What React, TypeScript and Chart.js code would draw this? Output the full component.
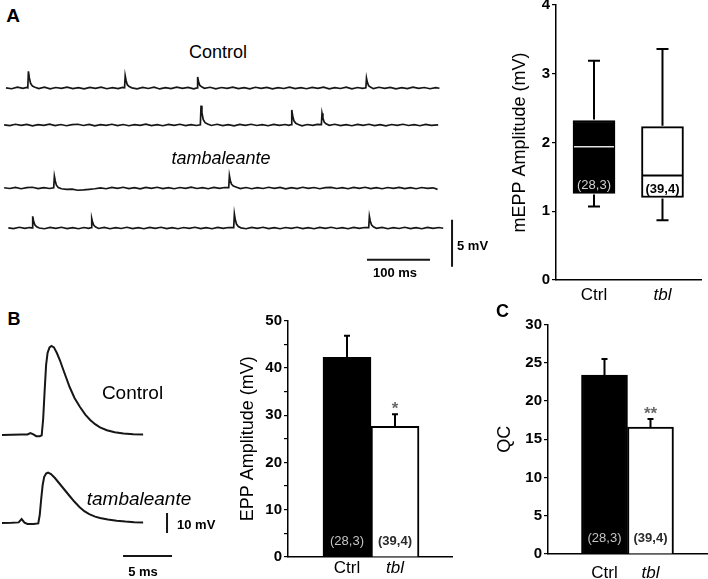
import React, { useEffect, useRef } from 'react';
import { Chart, registerables } from 'chart.js';

Chart.register(...registerables);

const FAMILY = '"Liberation Sans", Arial, Helvetica, sans-serif';

// ---------- DATA ----------
const categories = ['Ctrl', 'tbl'];
const nLabels = ['(28,3)', '(39,4)'];

// Panel A: mEPP amplitude box plot (mV)
const mEppMin = [1.07, 0.87];
const mEppQ1 = [1.26, 1.2];
const mEppMedian = [1.94, 1.52];
const mEppQ3 = [2.32, 2.23];
const mEppMax = [3.19, 3.36];
const mEppTicks = [0, 1, 2, 3, 4];

// Panel B: EPP amplitude (mV), mean and SEM
const eppMean = [42.2, 27.6];
const eppErr = [4.6, 2.6];
const eppStars = ['', '*'];

// Panel C: quantal content, mean and SEM
const qcMean = [23.4, 16.6];
const qcErr = [2.1, 1.05];
const qcStars = ['', '**'];

// Panel A: mEPP recordings, [time ms, mV]
const controlTrace1: [number, number][] = [
  [0, 0.02], [9, -0.08], [18, 0.09], [27, -0.04], [33, 0.06], [34.6, 0.02], [35.6, 1.78], [37, 1.1], [39, 0.5], [42, 0.2],
  [46, 0.08], [52, -0.07], [61, 0.08], [70, -0.09], [79, 0.05], [88, -0.03], [97, 0.1], [106, -0.07], [115, 0.04], [124, -0.1],
  [133, 0.07], [142, -0.04], [151, 0.09], [160, -0.08], [169, 0.03], [178, -0.06], [185, 0.07], [188.2, 0.03], [189.2, 1.31], [190.6, 0.8],
  [192.5, 0.35], [195.5, 0.15], [200, 0.02], [208, -0.09], [217, 0.07], [226, -0.05], [235, 0.08], [244, -0.1], [253, 0.04], [262, -0.07],
  [271, 0.09], [280, -0.04], [289, 0.07], [298, -0.08], [303.2, 0.02], [304.2, 1.17], [305.6, 0.7], [307.5, 0.3], [310.5, 0.12], [315, -0.03],
  [324, 0.08], [333, -0.09], [342, 0.05], [351, -0.04], [360, 0.1], [369, -0.07], [378, 0.03], [387, -0.09], [396, 0.08], [405, -0.03],
  [414, 0.07], [423, -0.1], [432, 0.04], [441, -0.05], [450, 0.09], [459, -0.07], [468, 0.03], [477, -0.08], [486, 0.07], [495, -0.04],
  [504, 0.09], [513, -0.08], [522, 0.04], [531, -0.05], [540, 0.08], [549, -0.09], [558, 0.05], [566, -0.03], [571.2, 0.03], [572.2, 1.06],
  [573.6, 0.6], [575.5, 0.25], [578.5, 0.1], [583, -0.07], [592, 0.08], [601, -0.04], [610, 0.07], [619, -0.09], [628, 0.03], [637, -0.07],
  [646, 0.09], [655, -0.03], [664, 0.05], [673, -0.08], [682, 0.04], [688, -0.03],
];
const controlTrace2: [number, number][] = [
  [-3, 0.02], [6, -0.07], [15, 0.08], [24, -0.04], [33, 0.07], [42, -0.09], [51, 0.04], [60, -0.03], [69, 0.09], [78, -0.07],
  [87, 0.05], [96, -0.08], [105, 0.03], [114, 0.08], [123, -0.05], [132, 0.07], [141, -0.09], [150, 0.04], [159, -0.03], [168, 0.08],
  [177, -0.07], [186, 0.05], [195, -0.08], [204, 0.04], [213, -0.04], [222, 0.09], [231, -0.07], [240, 0.03], [249, -0.08], [258, 0.07],
  [267, -0.04], [276, 0.08], [285, -0.07], [294, 0.04], [302, -0.05], [308.5, 0.02], [309.6, 2.06], [311, 1.3], [313, 0.6], [316, 0.25],
  [320, 0.1], [326, -0.05], [335, 0.08], [344, -0.07], [353, 0.04], [362, -0.09], [371, 0.07], [380, -0.03], [389, 0.08], [398, -0.05],
  [407, 0.04], [416, -0.08], [425, 0.07], [434, -0.04], [443, 0.05], [449, -0.03], [452.5, 0.03], [453.6, 1.6], [455, 1.0], [457, 0.45],
  [460, 0.18], [464, 0.05], [470, -0.08], [478, 0.05], [487, -0.04], [494, 0.07], [500.6, 0.04], [501.6, 1.24], [503, 0.75], [505, 0.32],
  [508, 0.12], [513, -0.04], [522, 0.08], [531, -0.07], [540, 0.04], [549, -0.08], [558, 0.07], [567, -0.03], [576, 0.08], [585, -0.07],
  [594, 0.04], [603, -0.09], [612, 0.05], [621, -0.04], [630, 0.08], [639, -0.05], [648, 0.03], [657, -0.08], [666, 0.07], [675, -0.04],
  [686, 0.02],
];
const tblTrace1: [number, number][] = [
  [-3, 0.03], [6, -0.05], [15, 0.07], [24, -0.08], [33, 0.03], [42, 0.08], [51, -0.07], [60, 0.04], [69, -0.05], [75.7, 0.02],
  [76.8, 1.24], [78.2, 0.75], [80, 0.3], [83, 0.05], [88, -0.08], [96, -0.15], [105, -0.12], [114, -0.24], [123, -0.2], [132, -0.14],
  [141, -0.08], [150, 0.02], [159, -0.08], [168, 0.07], [177, -0.04], [186, 0.08], [195, -0.07], [204, 0.03], [213, -0.09], [222, 0.07],
  [231, -0.03], [240, 0.08], [249, -0.07], [258, 0.04], [267, -0.08], [276, 0.05], [285, -0.03], [294, 0.09], [303, -0.05], [312, 0.04],
  [321, -0.08], [330, 0.07], [339, -0.03], [347, 0.05], [353.5, 0.03], [354.6, 1.31], [356, 0.8], [358, 0.4], [361, 0.2], [366, 0.08],
  [372, -0.07], [381, 0.05], [390, -0.08], [399, 0.04], [408, -0.05], [417, 0.08], [426, -0.03], [435, 0.07], [444, -0.09], [453, 0.04],
  [462, -0.07], [471, 0.08], [480, -0.04], [489, 0.05], [498, -0.08], [507, 0.03], [516, 0.07], [525, -0.05], [534, 0.04], [543, -0.08],
  [552, 0.07], [561, -0.03], [570, 0.08], [579, -0.07], [588, 0.04], [597, -0.08], [606, 0.05], [615, -0.04], [624, 0.07], [633, -0.07],
  [642, 0.03], [651, -0.08], [660, 0.05], [669, -0.04], [678, 0.02], [685, -0.15],
];
const tblTrace2: [number, number][] = [
  [3.7, 0.02], [12, -0.07], [21, 0.08], [30, -0.04], [37, 0.05], [41.3, 0.02], [42.4, 1.24], [43.8, 0.75], [45.7, 0.35], [48.7, 0.12],
  [53, 0], [61, -0.08], [70, 0.07], [79, -0.04], [88, 0.08], [97, -0.07], [106, 0.04], [115, -0.08], [124, 0.05], [131, -0.03],
  [135, 0.03], [136.1, 1.0], [137.5, 0.6], [139.4, 0.28], [142.4, 0.1], [147, -0.05], [156, 0.07], [165, -0.08], [174, 0.04], [183, -0.05],
  [192, 0.08], [201, -0.07], [210, 0.03], [219, -0.08], [228, 0.07], [237, -0.04], [246, 0.08], [255, -0.07], [264, 0.04], [273, -0.08],
  [282, 0.05], [291, -0.04], [300, 0.08], [309, -0.07], [318, 0.04], [327, -0.08], [336, 0.07], [345, -0.03], [353, 0.05], [361.4, 0.03],
  [362.5, 1.49], [363.9, 0.9], [365.8, 0.42], [368.8, 0.16], [373, 0.02], [381, -0.08], [390, 0.07], [399, -0.04], [408, 0.08], [417, -0.07],
  [426, 0.04], [435, -0.08], [444, 0.05], [453, -0.03], [462, 0.08], [471, -0.07], [480, 0.04], [489, -0.08], [498, 0.07], [507, -0.04],
  [516, 0.08], [525, -0.05], [534, 0.04], [543, -0.08], [552, 0.07], [561, -0.03], [569, 0.05], [575.7, 0.03], [576.8, 1.24], [578.2, 0.75],
  [580.1, 0.35], [583.1, 0.12], [588, -0.04], [597, 0.07], [606, -0.08], [615, 0.04], [624, -0.05], [633, 0.08], [642, -0.07], [651, 0.03],
  [660, -0.08], [669, 0.07], [678, -0.04], [687, 0.05], [694, -0.03],
];
// Panel A scale bars: 100 ms and 5 mV
const aBarTime: [number, number][] = [[573, -3.37], [673, -3.37]];
const aBarVolt: [number, number][] = [[708, 0.88], [708, -4.12]];

// Panel B: evoked EPP recordings, [time ms, mV]
const controlEpp: [number, number][] = [
  [0, 0], [1, 0.1], [2, 0.2], [2.6, 0.3], [2.9, 1.0], [3.2, 0.3], [3.5, -0.6], [3.85, -0.6], [4.05, -0.2], [4.2, 8],
  [4.35, 22], [4.5, 35], [4.65, 41], [4.85, 43.8], [5.05, 44.5], [5.3, 43.8], [5.6, 41], [5.9, 37.5], [6.3, 32], [6.9, 24],
  [7.4, 18.5], [7.96, 14], [8.5, 10.2], [9.0, 7.5], [9.5, 5.4], [10.0, 3.8], [10.7, 2.4], [11.5, 1.4], [12.4, 0.8], [13.4, 0.4],
  [14.4, 0.2],
];
const tblEpp: [number, number][] = [
  [0, 0], [1, 0.1], [1.7, 0.3], [2.0, 2], [2.3, 0.2], [2.6, -0.5], [3.2, -0.5], [3.7, -0.2], [3.85, 4], [4.0, 12],
  [4.15, 19], [4.3, 23], [4.5, 24.7], [4.7, 25.2], [5.0, 24.5], [5.4, 22.5], [5.9, 19.5], [6.4, 16.5], [6.9, 13.5], [7.4, 10.6],
  [7.9, 8.0], [8.4, 5.9], [8.9, 4.4], [9.5, 3.2], [10, 2.5], [10.8, 1.7], [11.7, 1.1], [12.6, 0.7], [13.5, 0.4], [14.4, 0.3],
];
// Panel B scale bars: 5 ms and 10 mV
const bBarTime: [number, number][] = [[12.35, -16.5], [17.35, -16.5]];
const bBarVolt: [number, number][] = [[16.84, 5], [16.84, -5]];

// ---------- CHART HELPERS ----------
type Series = { data: [number, number][]; width: number };

function traceConfig(series: Series[], xMin: number, xMax: number, yMin: number, yMax: number) {
  return {
    type: 'line',
    data: {
      datasets: series.map((s) => ({
        data: s.data,
        borderColor: '#161616',
        borderWidth: s.width,
        pointRadius: 0,
        tension: 0,
        fill: false,
        clip: false,
      })),
    },
    options: {
      responsive: false,
      animation: false,
      events: [],
      layout: { padding: 0 },
      plugins: { legend: { display: false }, tooltip: { enabled: false } },
      scales: {
        x: { type: 'linear', min: xMin, max: xMax, display: false },
        y: { type: 'linear', min: yMin, max: yMax, display: false },
      },
    },
  };
}

const xCategoryAxis = (min: number, max: number, height: number, pad: number) => ({
  type: 'linear',
  min,
  max,
  offset: false,
  bounds: 'data',
  grid: { display: false, offset: false },
  border: { display: true, color: '#000', width: 1.5 },
  afterBuildTicks: (s: any) => {
    s.ticks = categories.map((_, i) => ({ value: i }));
  },
  afterFit: (s: any) => {
    s.height = height;
  },
  ticks: {
    autoSkip: false,
    maxRotation: 0,
    padding: pad,
    color: '#000',
    font: (ctx: any) => ({ family: FAMILY, size: 17, style: ctx.index === 1 ? 'italic' : 'normal' }),
    callback: (v: any) => categories[v] ?? '',
  },
});

const yValueAxis = (min: number, max: number, step: number, labelEvery: number, title: string, titlePad: number, width: number) => ({
  type: 'linear',
  min,
  max,
  ticks: {
    stepSize: step,
    color: '#000',
    padding: 2,
    font: { family: FAMILY, size: 15, weight: 'bold' },
    callback: (v: any) => (Math.abs(v % labelEvery) < 1e-9 ? String(v) : ''),
  },
  grid: { drawOnChartArea: false, drawTicks: true, tickLength: 4, color: '#000', lineWidth: 1.2 },
  border: { display: true, color: '#000', width: 1.5 },
  title: { display: true, text: title, color: '#000', font: { family: FAMILY, size: 18 }, padding: { top: titlePad, bottom: 0 } },
  afterFit: (s: any) => {
    s.width = width;
  },
});

const baseOptions = {
  responsive: false,
  animation: false,
  events: [],
  plugins: { legend: { display: false }, tooltip: { enabled: false } },
};

function barAnnotations(id: string, means: number[], errs: number[], stars: string[]) {
  return {
    id,
    afterDatasetsDraw(chart: any) {
      const { ctx, chartArea, scales } = chart;
      const x = scales.x;
      const y = scales.y;
      ctx.save();
      means.forEach((m, i) => {
        const cx = x.getPixelForValue(i);
        const base = y.getPixelForValue(m);
        const top = y.getPixelForValue(m + errs[i]);
        ctx.strokeStyle = '#000';
        ctx.lineWidth = 2;
        ctx.beginPath();
        ctx.moveTo(cx, base);
        ctx.lineTo(cx, top);
        ctx.moveTo(cx - 3, top);
        ctx.lineTo(cx + 3, top);
        ctx.stroke();
        if (stars[i]) {
          ctx.fillStyle = '#6a6a6a';
          ctx.font = `bold 17px ${FAMILY}`;
          ctx.textAlign = 'center';
          ctx.textBaseline = 'middle';
          ctx.fillText(stars[i], cx, top - 5);
        }
        ctx.fillStyle = i === 0 ? '#c4c4c4' : '#2a2a2a';
        ctx.font = `${i === 0 ? '' : 'bold '}13px ${FAMILY}`;
        ctx.textAlign = 'center';
        ctx.textBaseline = 'middle';
        ctx.fillText(nLabels[i], cx, chartArea.bottom - 15.5);
      });
      ctx.restore();
    },
  };
}

const boxAnnotations = {
  id: 'boxWhiskers',
  afterDatasetsDraw(chart: any) {
    const { ctx, scales } = chart;
    const x = scales.x;
    const y = scales.y;
    const meta = chart.getDatasetMeta(0);
    ctx.save();
    categories.forEach((_, i) => {
      const cx = x.getPixelForValue(i);
      const yMax = y.getPixelForValue(mEppMax[i]);
      const yQ3 = y.getPixelForValue(mEppQ3[i]);
      const yQ1 = y.getPixelForValue(mEppQ1[i]);
      const yMin = y.getPixelForValue(mEppMin[i]);
      const yMed = y.getPixelForValue(mEppMedian[i]);
      ctx.strokeStyle = '#000';
      ctx.lineWidth = 2;
      ctx.beginPath();
      ctx.moveTo(cx, yQ3 - 1);
      ctx.lineTo(cx, yMax);
      ctx.moveTo(cx - 6, yMax);
      ctx.lineTo(cx + 6, yMax);
      ctx.moveTo(cx, yQ1 + 1);
      ctx.lineTo(cx, yMin);
      ctx.moveTo(cx - 6, yMin);
      ctx.lineTo(cx + 6, yMin);
      ctx.stroke();
      const half = meta.data[i].width / 2 - 1;
      ctx.strokeStyle = i === 0 ? '#e0e0e0' : '#000';
      ctx.lineWidth = i === 0 ? 1.5 : 2;
      ctx.beginPath();
      ctx.moveTo(cx - half, yMed);
      ctx.lineTo(cx + half, yMed);
      ctx.stroke();
      ctx.fillStyle = i === 0 ? '#d0d0d0' : '#000';
      ctx.font = `${i === 0 ? '' : 'bold '}13px ${FAMILY}`;
      ctx.textAlign = 'center';
      ctx.textBaseline = 'middle';
      ctx.fillText(nLabels[i], cx, yQ1 - 8);
    });
    ctx.restore();
  },
};

function boxConfig() {
  return {
    type: 'bar',
    data: {
      datasets: [
        {
          data: categories.map((_, i) => ({ x: i, y: [mEppQ1[i], mEppQ3[i]] })),
          backgroundColor: ['#000', '#fff'],
          borderColor: '#000',
          borderWidth: 2,
          borderSkipped: false,
          barThickness: 42,
        },
      ],
    },
    options: {
      ...baseOptions,
      layout: { padding: { top: 25, left: 0, right: 0, bottom: 0 } },
      scales: {
        x: xCategoryAxis(-0.555, 1.577, 32, -2.5),
        y: yValueAxis(mEppTicks[0], mEppTicks[mEppTicks.length - 1], 1, 1, 'mEPP Amplitude (mV)', 19, 66),
      },
    },
    plugins: [boxAnnotations],
  };
}

function barConfig(means: number[], errs: number[], stars: string[], opts: any) {
  return {
    type: 'bar',
    data: {
      datasets: [
        {
          data: categories.map((_, i) => ({ x: i, y: means[i] })),
          backgroundColor: ['#000', '#fff'],
          borderColor: '#000',
          borderWidth: 2,
          borderSkipped: 'start',
          barThickness: opts.thickness,
        },
      ],
    },
    options: {
      ...baseOptions,
      layout: { padding: { top: opts.padTop, left: 0, right: 0, bottom: 0 } },
      scales: {
        x: xCategoryAxis(opts.xMin, opts.xMax, opts.xHeight, opts.xPad),
        y: yValueAxis(0, opts.yMax, 5, opts.labelEvery, opts.title, opts.titlePad, opts.yWidth),
      },
    },
    plugins: [barAnnotations(opts.id, means, errs, stars)],
  };
}

function ChartCanvas({ left, top, width, height, make }: { left: number; top: number; width: number; height: number; make: () => any }) {
  const ref = useRef<HTMLCanvasElement>(null);
  useEffect(() => {
    const chart = new Chart(ref.current as HTMLCanvasElement, make());
    return () => chart.destroy();
  }, []);
  return (
    <canvas
      ref={ref}
      width={width}
      height={height}
      style={{ position: 'absolute', left, top, width, height, display: 'block' }}
    />
  );
}

function Label({ x, y, text, size, bold, italic, align }: { x: number; y: number; text: string; size: number; bold?: boolean; italic?: boolean; align?: 'left' | 'center' }) {
  const tx = align === 'left' ? '0' : '-50%';
  return (
    <div
      style={{
        position: 'absolute',
        left: x,
        top: y,
        transform: `translate(${tx}, -50%)`,
        fontFamily: FAMILY,
        fontSize: size,
        fontWeight: bold ? 'bold' : 'normal',
        fontStyle: italic ? 'italic' : 'normal',
        lineHeight: 1,
        whiteSpace: 'nowrap',
        color: '#000',
      }}
    >
      {text}
    </div>
  );
}

// Panel A trace geometry
const A_X0 = 6;
const A_PX_PER_MS = 0.63;
const A_PX_PER_MV = 9.4;
const A_W = 470;
const aXMin = -A_X0 / A_PX_PER_MS;
const aXMax = (A_W - A_X0) / A_PX_PER_MS;

// Panel B trace geometry
const B_X0 = 2;
const B_PX_PER_MS = 9.8;
const B_PX_PER_MV = 2;
const B_W = 185;
const bXMin = -B_X0 / B_PX_PER_MS;
const bXMax = (B_W - B_X0) / B_PX_PER_MS;

export default function App() {
  const aTraces = [
    { top: 63.3, height: 35, below: 10, series: [{ data: controlTrace1, width: 1.7 }] },
    { top: 100, height: 35, below: 10, series: [{ data: controlTrace2, width: 1.7 }] },
    { top: 163.3, height: 35, below: 10, series: [{ data: tblTrace1, width: 1.7 }] },
    {
      top: 203.3,
      height: 70,
      below: 45,
      series: [
        { data: tblTrace2, width: 1.7 },
        { data: aBarTime, width: 2 },
        { data: aBarVolt, width: 2 },
      ],
    },
  ];
  return (
    <div
      style={{
        position: 'absolute',
        left: 0,
        top: 0,
        width: 708,
        height: 579,
        overflow: 'hidden',
        background: '#fff',
      }}
    >
      {aTraces.map((t, i) => (
        <ChartCanvas
          key={'a' + i}
          left={0}
          top={t.top}
          width={A_W}
          height={t.height}
          make={() =>
            traceConfig(t.series, aXMin, aXMax, -t.below / A_PX_PER_MV, (t.height - t.below) / A_PX_PER_MV)
          }
        />
      ))}
      <ChartCanvas left={0} top={335} width={B_W} height={110} make={() => traceConfig([{ data: controlEpp, width: 2 }], bXMin, bXMax, -10 / B_PX_PER_MV, 100 / B_PX_PER_MV)} />
      <ChartCanvas
        left={0}
        top={463}
        width={B_W}
        height={100}
        make={() =>
          traceConfig(
            [
              { data: tblEpp, width: 2 },
              { data: bBarTime, width: 2 },
              { data: bBarVolt, width: 2 },
            ],
            bXMin,
            bXMax,
            -40 / B_PX_PER_MV,
            60 / B_PX_PER_MV
          )
        }
      />
      <ChartCanvas left={490} top={-20} width={212} height={332} make={boxConfig} />
      <ChartCanvas
        left={220}
        top={300}
        width={233}
        height={279}
        make={() =>
          barConfig(eppMean, eppErr, eppStars, {
            id: 'eppBars',
            thickness: 48,
            padTop: 20.5,
            xMin: -1.229,
            xMax: 2.208,
            xHeight: 22,
            xPad: -7,
            yMax: 50,
            labelEvery: 10,
            title: 'EPP Amplitude (mV)',
            titlePad: 17,
            yWidth: 68,
          })
        }
      />
      <ChartCanvas
        left={480}
        top={300}
        width={228}
        height={279}
        make={() =>
          barConfig(qcMean, qcErr, qcStars, {
            id: 'qcBars',
            thickness: 46,
            padTop: 24.5,
            xMin: -1.228,
            xMax: 2.25,
            xHeight: 25,
            xPad: 1,
            yMax: 30,
            labelEvery: 5,
            title: 'QC',
            titlePad: 14,
            yWidth: 68,
          })
        }
      />
      <Label x={13} y={15} text="A" size={19} bold />
      <Label x={14} y={319} text="B" size={18} bold />
      <Label x={502.5} y={311} text="C" size={18} bold />
      <Label x={218} y={52} text="Control" size={18} />
      <Label x={221} y={158} text="tambaleante" size={18} italic />
      <Label x={395} y={272} text="100 ms" size={13} bold />
      <Label x={457} y={245} text="5 mV" size={13} bold align="left" />
      <Label x={132.5} y={392} text="Control" size={19} />
      <Label x={139} y={498} text="tambaleante" size={19} italic />
      <Label x={177} y={523.5} text="10 mV" size={13} bold align="left" />
      <Label x={143} y={571} text="5 ms" size={13} bold />
    </div>
  );
}
